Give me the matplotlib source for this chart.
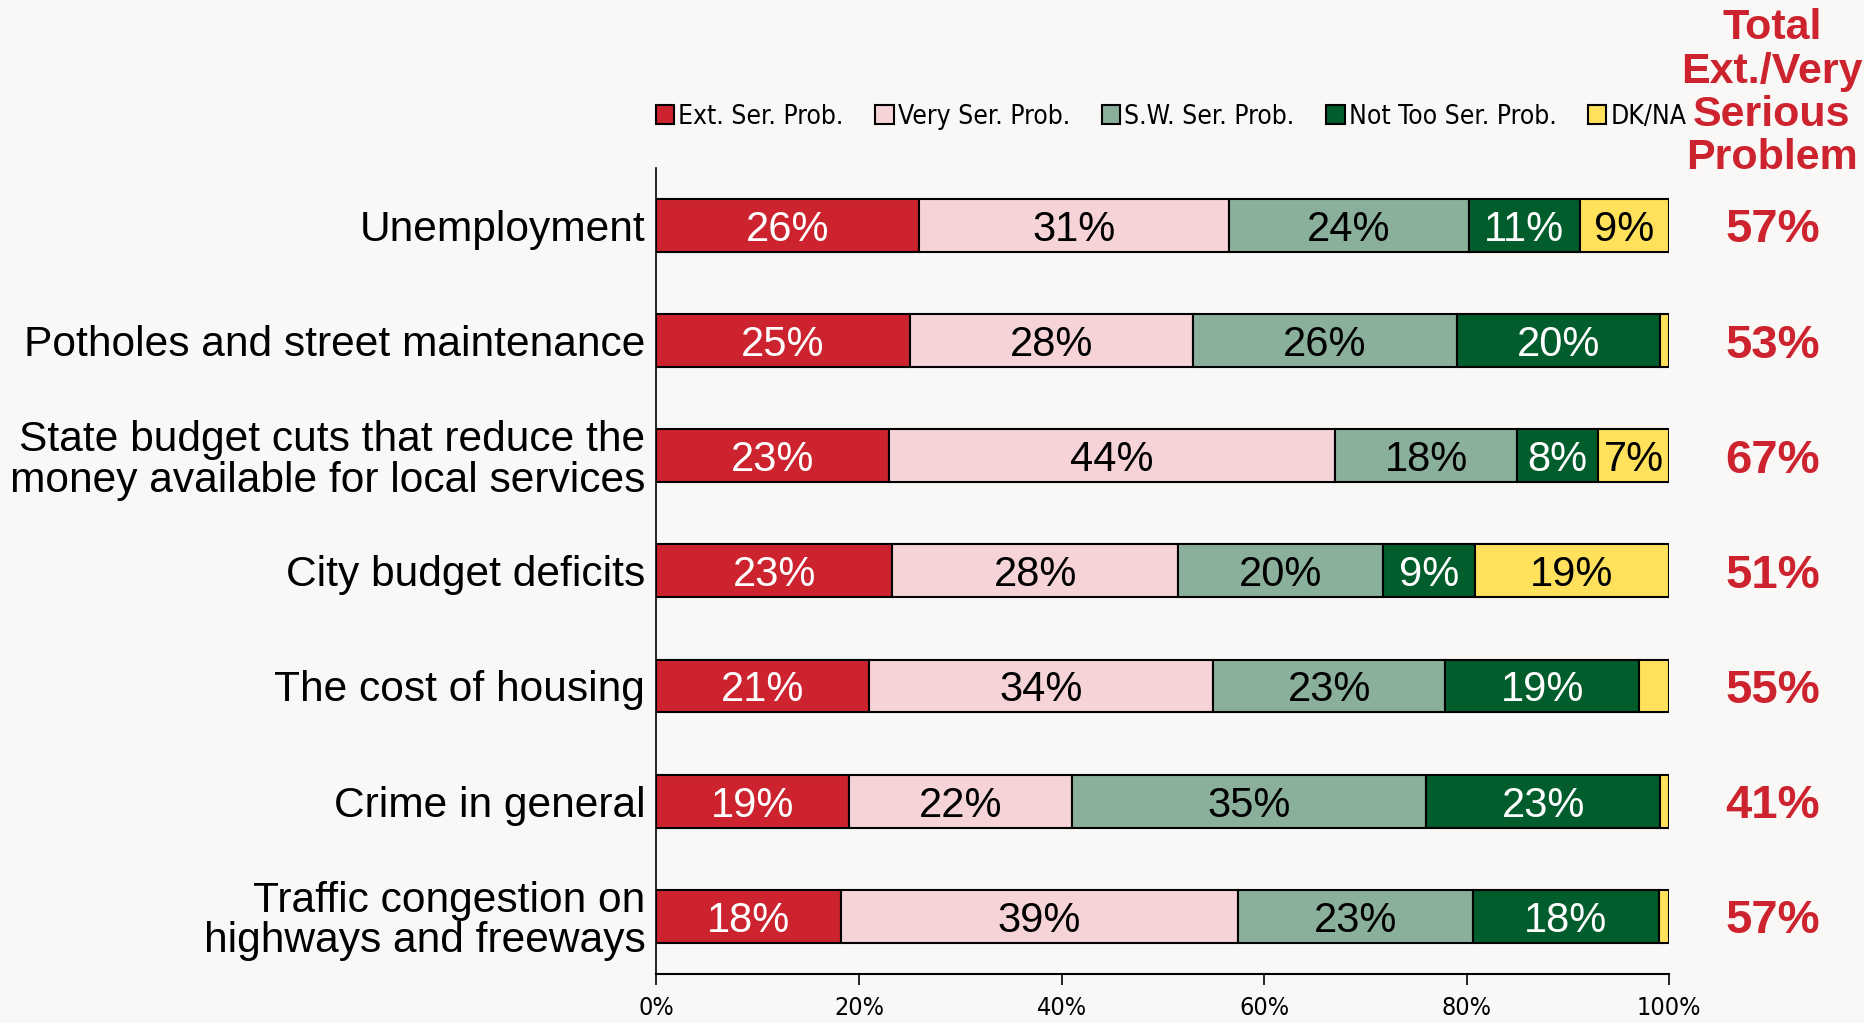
import matplotlib.pyplot as plt
import numpy as np

issues = [
    "Unemployment",
    "Potholes and street maintenance",
    "State budget cuts that reduce the\nmoney available for local services",
    "City budget deficits",
    "The cost of housing",
    "Crime in general",
    "Traffic congestion on\nhighways and freeways",
]
series_names = ["Ext. Ser. Prob.", "Very Ser. Prob.", "S.W. Ser. Prob.", "Not Too Ser. Prob.", "DK/NA"]
ext_serious = [25.9, 25.0, 23.0, 23.3, 21.0, 19.0, 18.2]
very_serious = [30.6, 28.0, 44.0, 28.2, 34.0, 22.0, 39.2]
sw_serious = [23.7, 26.0, 18.0, 20.2, 22.9, 35.0, 23.2]
not_too_serious = [11.0, 20.1, 8.0, 9.1, 19.1, 23.1, 18.4]
dk_na = [8.8, 0.9, 7.0, 19.2, 3.0, 0.9, 1.0]
totals = [57, 53, 67, 51, 55, 41, 57]

colors = ["#CC232E", "#F6D3D6", "#8AAF9A", "#015D2C", "#FFE15B"]
text_colors = ["white", "black", "black", "white", "black"]
bg = "#F9F8F6"
plt.rcParams["font.family"] = ["Liberation Sans", "DejaVu Sans"]

fig = plt.figure(figsize=(18.65, 10.23), dpi=100, facecolor=bg)
ax = fig.add_axes([0.352, 0.048, 0.543, 0.788], facecolor=bg)

data = [ext_serious, very_serious, sw_serious, not_too_serious, dk_na]
y = np.arange(len(issues))
left = np.zeros(len(issues))
for vals, name, col, tcol in zip(data, series_names, colors, text_colors):
    vals = np.array(vals)
    ax.barh(y, vals, left=left, height=0.46, color=col, edgecolor="black",
            linewidth=1.5, label=name)
    for yi, l, v in zip(y, left, vals):
        if v >= 5:
            ax.text(l + v / 2, yi, f"{v:.0f}%", ha="center", va="center_baseline",
                    fontsize=30, color=tcol)
    left += vals

ax.set_ylim(len(issues) - 0.5, -0.5)
ax.set_xlim(0, 100)
ax.set_yticks(y)
ax.set_yticklabels(issues, fontsize=30.6, linespacing=1.02)
ax.tick_params(axis="y", length=0, pad=8)
ax.set_xticks([0, 20, 40, 60, 80, 100])
ax.set_xticklabels(["0%", "20%", "40%", "60%", "80%", "100%"], fontsize=18,
                   fontfamily="DejaVu Sans", fontstretch="condensed")
ax.tick_params(axis="x", length=8, width=1.2, direction="out", pad=8)
for s in ["top", "right"]:
    ax.spines[s].set_visible(False)
ax.spines["left"].set_linewidth(1.2)
ax.spines["bottom"].set_linewidth(1.5)

for yi, t in zip(y, totals):
    ax.text(110.2, yi, f"{t}%", ha="center", va="center_baseline", fontsize=34,
            fontweight="bold", color="#CC232E", clip_on=False)

fig.text(0.950, 0.909, "Total\nExt./Very\nSerious\nProblem", ha="center", va="center",
         fontsize=31, fontweight="bold", color="#CC232E", linespacing=1.1)

fig.legend(loc="center", bbox_to_anchor=(0.628, 0.886), ncol=5, frameon=False,
           prop={"family": "DejaVu Sans", "stretch": "condensed", "size": 19},
           handlelength=0.7, handleheight=0.7,
           handletextpad=0.15, columnspacing=1.2, borderaxespad=0)

fig.savefig("out.png", dpi=100, facecolor=bg)
